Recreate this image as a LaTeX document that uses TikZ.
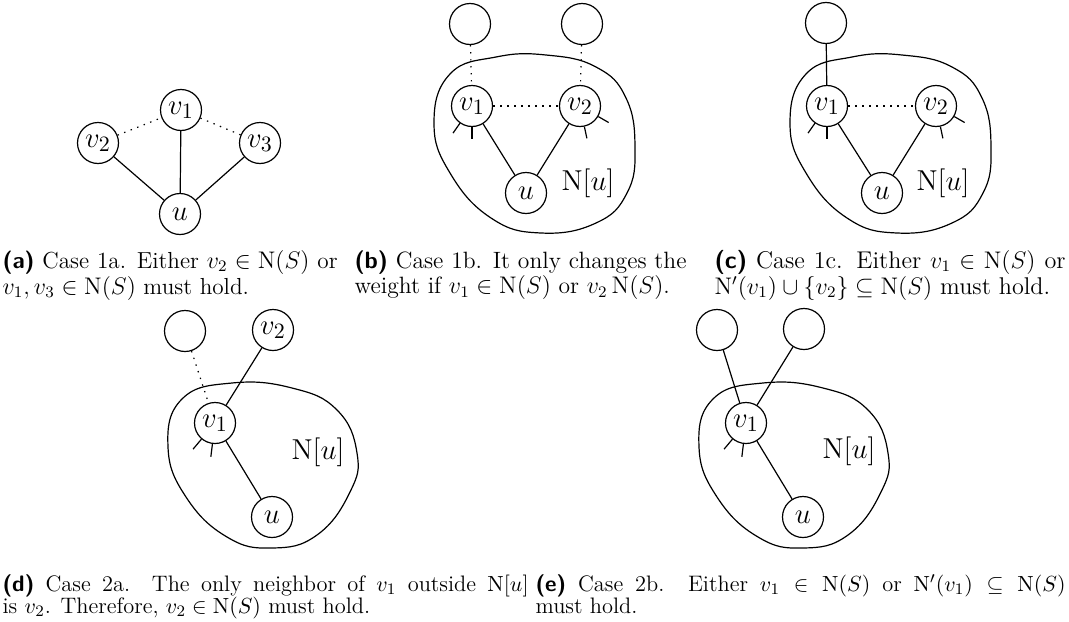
\documentclass[tikz,border=0pt]{standalone}
\usepackage{amssymb}
\newcommand\mycap[4]{\parbox[t]{#1}{\fontsize{#4}{11.3}\selectfont\textsf{\textbf{(#2)}} #3}}
\begin{document}
\begin{tikzpicture}[x=0.5pt,y=-0.5pt, line width=0.6pt,
 vtx/.style={circle,draw,minimum size=20.5pt,inner sep=0pt,font=\fontsize{15}{18}\selectfont},
 dots/.style={dash pattern=on 0.7pt off 2.8pt},
 lbl/.style={font=\fontsize{15}{18}\selectfont, inner sep=0pt},
 capnode/.style={anchor=base west, inner sep=0pt},
 blobbc/.pic={\draw plot[smooth cycle, tension=0.75] coordinates {(-92,-70) (-76,-119) (-30,-136) (20,-138) (70,-126) (100,-95) (109,-45) (101,0) (70,30) (15,40) (-35,25) (-76,-20)};},
 blobde/.pic={\draw plot[smooth cycle, tension=0.75] coordinates {(-104,-70) (-90,-118) (-40,-134) (20,-129) (65,-107) (85,-64) (78,-25) (45,18) (0,31) (-45,20) (-86,-20)};}
]
\useasboundingbox (0,0) rectangle (1069,621);

% ---------- (a)
\node[vtx] (a1) at (181,110) {$v_1$};
\node[vtx] (a2) at (98,143) {$v_2$};
\node[vtx] (a3) at (260,143) {$v_3$};
\node[vtx] (au) at (180,214) {$u$};
\draw[dots] (a2) -- (a1);
\draw[dots] (a1) -- (a3);
\draw (a2) -- (au);
\draw (a1) -- (au);
\draw (a3) -- (au);

% ---------- (b)
\node[vtx] (bt1) at (470,24) {};
\node[vtx] (bt2) at (582,24) {};
\node[vtx] (b1) at (472,106) {$v_1$};
\node[vtx] (b2) at (580,106) {$v_2$};
\node[vtx] (bu) at (526,193) {$u$};
\node[lbl] (bN) at (588,183) {$\mathrm{N}[u]$};
\pic at (bu) {blobbc};
\draw[dots] (bt1) -- (b1);
\draw[dots] (bt2) -- (b2);
\draw[dots] (b1) -- (b2);
\draw (b1) -- (bu);
\draw (b2) -- (bu);
\draw (b1.235) -- ++(235:6pt);
\draw (b1.270) -- ++(270:6pt);
\draw (b2.-30) -- ++(-30:6pt);
\draw (b2.-78) -- ++(-78:6pt);

% ---------- (c)
\node[vtx] (ct1) at (826,23) {};
\node[vtx] (c1) at (827,106) {$v_1$};
\node[vtx] (c2) at (936,106) {$v_2$};
\node[vtx] (cu) at (882,193) {$u$};
\node[lbl] (cN) at (943,183) {$\mathrm{N}[u]$};
\pic at (cu) {blobbc};
\draw (ct1) -- (c1);
\draw[dots] (c1) -- (c2);
\draw (c1) -- (cu);
\draw (c2) -- (cu);
\draw (c1.235) -- ++(235:6pt);
\draw (c1.270) -- ++(270:6pt);
\draw (c2.-30) -- ++(-30:6pt);
\draw (c2.-78) -- ++(-78:6pt);

% ---------- (d)
\node[vtx] (dt1) at (185,331) {};
\node[vtx] (d2) at (273,330) {$v_2$};
\node[vtx] (d1) at (215,423) {$v_1$};
\node[vtx] (du) at (272,517) {$u$};
\node[lbl] (dN) at (318,452) {$\mathrm{N}[u]$};
\pic at (du) {blobde};
\draw[dots] (dt1) -- (d1);
\draw (d2) -- (d1);
\draw (d1) -- (du);
\draw (d1.230) -- ++(230:6.5pt);
\draw (d1.263) -- ++(263:6.5pt);

% ---------- (e)
\node[vtx] (et1) at (717,330) {};
\node[vtx] (et2) at (804,329) {};
\node[vtx] (e1) at (746,423) {$v_1$};
\node[vtx] (eu) at (803,517) {$u$};
\node[lbl] (eN) at (849,451) {$\mathrm{N}[u]$};
\pic at (eu) {blobde};
\draw (et1) -- (e1);
\draw (et2) -- (e1);
\draw (e1) -- (eu);
\draw (e1.230) -- ++(230:6.5pt);
\draw (e1.263) -- ++(263:6.5pt);

% ---------- captions
\node[capnode] (capa) at (2,268) {\mycap{167.5pt}{a}{Case 1a. Either $v_2 \in \mathrm{N}(S)$ or\linebreak $v_1, v_3 \in \mathrm{N}(S)$ must hold.}{11.6}};
\node[capnode] (capb) at (354,268) {\mycap{166pt}{b}{Case 1b. It only changes the\linebreak weight if $v_1 \in \mathrm{N}(S)$ or $v_2\,\mathrm{N}(S)$.}{11.8}};
\node[capnode] (capc) at (714,268) {\mycap{175.5pt}{c}{Case 1c. Either $v_1 \in \mathrm{N}(S)$ or\linebreak $\mathrm{N}'(v_1) \cup \{v_2\} \subseteq \mathrm{N}(S)$ must hold.}{12.1}};
\node[capnode] (capd) at (2,591) {\mycap{263pt}{d}{Case 2a. The only neighbor of $v_1$ outside $\mathrm{N}[u]$\linebreak is $v_2$. Therefore, $v_2 \in \mathrm{N}(S)$ must hold.}{11.2}};
\node[capnode] (cape) at (535,591) {\mycap{265pt}{e}{Case 2b. Either $v_1 \in \mathrm{N}(S)$ or $\mathrm{N}'(v_1) \subseteq \mathrm{N}(S)$\linebreak must hold.}{11.2}};
\end{tikzpicture}
\end{document}
